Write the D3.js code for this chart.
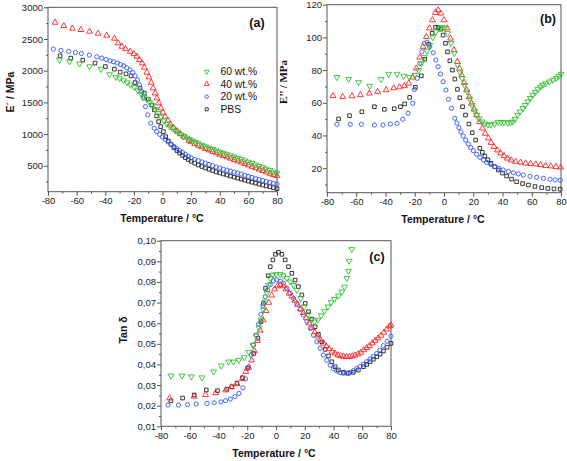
<!DOCTYPE html>
<html><head><meta charset="utf-8">
<script src="https://cdn.jsdelivr.net/npm/d3@7"></script>
<style>
body{margin:0;background:#fff}
svg{display:block;font-family:"Liberation Sans",Arial,sans-serif}
</style>
</head><body>
<svg id="chart" width="567" height="461"></svg>
<script>
// ---------- DATA ----------
const seriesNames = ["60 wt.%", "40 wt.%", "20 wt.%", "PBS"];
const xTicks = [-80, -60, -40, -20, 0, 20, 40, 60, 80];
const aTicks = [500, 1000, 1500, 2000, 2500, 3000];
const bTicks = [20, 40, 60, 80, 100, 120];
const cTicks = [0.01, 0.02, 0.03, 0.04, 0.05, 0.06, 0.07, 0.08, 0.09, 0.10];

// Panel (a): E' / MPa   [temperature, value]
const a60 = [[-72,2170],[-65,2145],[-58,2110],[-51,2065],[-43,2025],[-37,1940],[-32.6,1898],[-30,1877],[-27.2,1844],[-24.7,1812],[-22.3,1776],[-19.8,1740],[-17.2,1688],[-14.9,1629],[-13,1590],[-11,1550],[-9,1500],[-7,1450],[-5,1390],[-3,1330],[-1,1270],[1,1210],[3,1160],[5,1120],[7,1085],[9,1050],[11,1020],[13,990],[15,965],[17,940],[19,915],[21,892],[23,870],[25,850],[27.5,826],[30,803],[32.5,781],[35,760],[37.5,740],[40,720],[42.5,700],[45,680],[47.5,660],[50,640],[52.5,620],[55,600],[57.5,580],[60,560],[62.5,538],[65,516],[67.5,494],[70,472],[72.5,450],[75,428],[77.5,405],[80,385]];
const a40 = [[-75,2760],[-69,2708],[-63,2666],[-57,2645],[-51,2618],[-45,2587],[-39,2555],[-33.6,2508],[-31,2434],[-28.4,2381],[-25.8,2344],[-22.5,2302],[-20,2265],[-17.9,2223],[-16.1,2171],[-14.2,2119],[-12.6,2050],[-10.9,1971],[-9.5,1898],[-7.9,1812],[-6.5,1724],[-5.1,1645],[-3.9,1566],[-2.5,1487],[-1.1,1408],[0.3,1339],[1.9,1275],[3.8,1212],[5.6,1155],[7.7,1101],[10.1,1049],[12.4,1002],[15.4,950],[18.5,896],[20,875],[22.5,845],[25,818],[27.5,792],[30,768],[32.5,745],[35,722],[37.5,700],[40,678],[42.5,657],[45,636],[47.5,615],[50,594],[52.5,573],[55,552],[57.5,530],[60,508],[62.5,486],[65,464],[67.5,442],[70,420],[72.5,398],[75,377],[77.5,356],[80,340]];
const a20 = [[-76.3,2340],[-70.9,2318],[-65.5,2302],[-60.9,2287],[-56.7,2271],[-51.1,2245],[-45.9,2219],[-42.4,2198],[-39.4,2176],[-36.6,2155],[-34.3,2140],[-31.5,2119],[-29.2,2097],[-27.1,2076],[-25,2045],[-22.7,2013],[-20.8,1971],[-19.2,1918],[-17.5,1855],[-16.1,1776],[-14.5,1670],[-13.3,1566],[-11.9,1433],[-10.3,1302],[-8.2,1171],[-5.8,1092],[-4,1040],[-2,995],[0,955],[2,915],[4,875],[6,840],[8,805],[10,770],[12,740],[14,710],[16,680],[18,650],[20,625],[22.5,600],[25,580],[27.5,560],[30,540],[32.5,520],[35,500],[37.5,480],[40,462],[42.5,445],[45,430],[47.5,415],[50,400],[52.5,385],[55,368],[57.5,350],[60,333],[62.5,315],[65,298],[67.5,282],[70,266],[72.5,252],[75,238],[77.5,224],[80,210]];
const aPBS = [[-71.6,2234],[-64.1,2198],[-55.7,2166],[-47.1,2119],[-39.9,2065],[-33.6,2024],[-29.6,1977],[-25.5,1950],[-22,1918],[-19.2,1812],[-15.7,1724],[-12.7,1645],[-9.9,1550],[-7.6,1460],[-5.7,1381],[-4.1,1286],[-2.7,1196],[-1.3,1117],[0.6,1038],[2.2,959],[4.1,891],[6,835],[8,785],[10,740],[12,700],[14,662],[16,628],[18,598],[20,570],[22.5,540],[25,512],[27.5,488],[30,465],[32.5,444],[35,424],[37.5,405],[40,387],[42.5,370],[45,352],[47.5,336],[50,320],[52.5,304],[55,288],[57.5,272],[60,256],[62.5,240],[65,225],[67.5,210],[70,196],[72.5,182],[75,168],[77.5,152],[80,138]];

// Panel (b): E'' / MPa
const b60 = [[-73.2,75.6],[-65.2,74.5],[-58.4,72.5],[-50.8,70.3],[-43,74.4],[-37.8,77.6],[-32.1,77.6],[-27.6,76.4],[-23.7,75.6],[-20,77],[-17.3,80],[-15.5,84],[-13.6,88],[-11.6,91.7],[-9.7,95.3],[-7.6,100],[-5.5,103.5],[-3.5,105.5],[-1.5,106.3],[0.5,105.5],[2.5,102.5],[4.8,96.4],[7.1,90.3],[9.3,83.1],[11,78.5],[12.3,75],[14,70.8],[15.7,66.8],[17.5,62.5],[19.2,58.6],[21,55],[22.4,52.5],[24,50.3],[26,48.4],[28,47.2],[30,46.4],[32,46.6],[34.5,47],[37,48.2],[39,48.2],[41,48],[43.6,47.7],[45.5,48],[47,48.4],[48.5,50],[50.4,52.5],[52,54.6],[53.9,56.6],[55.5,58.5],[57.3,60.7],[59,62.8],[60.7,64.8],[62.5,66.6],[64.2,68.2],[66,69.7],[67.6,70.9],[69.5,71.8],[72.1,72.9],[74.5,74],[76.7,75],[78.5,76.3],[80,77.6]];
const b40 = [[-75.9,64.3],[-69.3,63.7],[-62.9,64.1],[-57.2,64.8],[-51,65.8],[-45.4,66.8],[-39.6,67.8],[-34.4,69],[-30.5,69.6],[-27.1,70.3],[-24.1,71.9],[-21.4,75.6],[-18.9,81.1],[-16.6,87.8],[-14.3,94.3],[-12,100.4],[-10,105.6],[-7.9,110.6],[-5.9,115.1],[-4,116.7],[-2.2,114.7],[-0.1,110.6],[2.2,105.6],[4.5,99.4],[6.8,92.3],[9.1,85.1],[10.6,81],[12.1,77],[13.8,72.3],[15.5,67.8],[17.2,63.6],[18.9,59.7],[20.6,56],[22.3,52.5],[24.2,48.3],[26.2,44.4],[28.2,41.2],[30.3,38.3],[32.2,35.6],[34.2,33.1],[36.5,31],[38.7,29.1],[41,27.5],[43.3,26],[46,24.9],[49,24],[52.4,23.5],[55.8,23],[59.2,22.7],[62.7,22.4],[66,22],[69.5,21.5],[73,21.2],[76.5,20.8],[79.8,20.5]];
const b20 = [[-73.2,46.8],[-64.1,46.8],[-56.5,46.8],[-47.6,46.4],[-41.7,46.4],[-36.7,47],[-32.1,47.4],[-28.2,49.9],[-24.6,53.6],[-21.4,59.7],[-20.2,68.2],[-18.3,75],[-16.5,84.1],[-15.1,91.2],[-13.5,96.4],[-11.5,97],[-9.7,94.3],[-7.4,90.6],[-5.6,86.2],[-4,82.1],[-2.4,77.6],[-0.6,72.9],[1.3,67.8],[3.1,62.1],[5.1,56.6],[7.4,50.5],[8.8,47.6],[10.2,44.8],[11.6,42.2],[13.1,39.7],[14.8,37.2],[16.6,34.8],[18.3,32.6],[20,30.7],[22.3,28.5],[24.6,26.6],[27,25],[29.1,23.6],[32,22.2],[34.8,20.9],[37.6,19.9],[40.5,18.9],[44,18],[47.4,17.2],[50.8,16.5],[54.2,15.8],[58.8,15],[63.4,14.4],[68,13.8],[72.5,13.2],[76,12.9],[79.5,12.6]];
const bPBS = [[-72.1,50.1],[-64.6,52.1],[-56.2,54.5],[-47.6,57.6],[-40.8,56],[-34,56.4],[-29.8,57.6],[-26.9,59.3],[-23.5,63.3],[-19.6,69.5],[-15.5,76.5],[-13.1,86.6],[-10.4,95.8],[-8.1,102.5],[-5.8,106.2],[-4,106],[-2.2,105],[-0.6,101.4],[1,96.4],[2.4,91.2],[4,85.7],[5.8,80],[7.4,74.5],[9.2,68.2],[10.8,63.1],[12.7,57.6],[14.7,52.5],[17,47],[19.3,41.7],[21.6,37.2],[24.5,32.2],[26.2,29.7],[27.9,27.4],[30,25.1],[32.1,23],[34.6,20.9],[37.1,18.9],[40,17],[42.8,15.2],[46.2,13.3],[49.7,11.7],[53.7,10.6],[57.7,9.7],[62.2,8.8],[66.8,8.1],[71,7.6],[75.2,7.3],[79.4,7.1]];

// Panel (c): Tan delta
const c60 = [[-73.1,0.0345],[-65.4,0.0345],[-58.9,0.0341],[-51.5,0.0336],[-43.4,0.0365],[-38.1,0.0394],[-33,0.0413],[-29.5,0.0413],[-25.8,0.0421],[-22.1,0.0434],[-18.8,0.0459],[-16.1,0.0494],[-13.8,0.0539],[-11.9,0.0578],[-10.3,0.0616],[-8.7,0.0664],[-7.5,0.0704],[-6.3,0.0745],[-5.2,0.0785],[-4,0.0818],[-2.2,0.0834],[0.1,0.0837],[2.9,0.0837],[5.2,0.083],[7.6,0.0818],[9.9,0.0801],[12.2,0.0785],[14.5,0.0761],[17.3,0.0721],[19.6,0.068],[22.2,0.0643],[24.5,0.0616],[26.7,0.0607],[29.1,0.0616],[31.4,0.0637],[33.7,0.0659],[36.1,0.068],[38.4,0.0701],[40.6,0.0717],[43.4,0.0733],[45.8,0.0752],[47.6,0.0776],[49.3,0.0818],[50.4,0.0853],[50.9,0.0902],[52.7,0.0958]];
const c40 = [[-74,0.0236],[-57,0.0245],[-49,0.0253],[-42,0.0262],[-35,0.0275],[-31,0.029],[-27,0.0305],[-23.5,0.033],[-21,0.0365],[-19,0.0385],[-17,0.042],[-15,0.0465],[-13,0.0515],[-11,0.0565],[-9,0.0615],[-7,0.066],[-5,0.07],[-3,0.0735],[-1,0.0765],[1,0.078],[3,0.0785],[5,0.078],[7,0.0765],[9,0.0745],[11,0.073],[13,0.071],[15,0.069],[17,0.0668],[19,0.065],[21,0.0625],[23,0.06],[25,0.0578],[27,0.0557],[29,0.0537],[31,0.0518],[33,0.0502],[35,0.0488],[37,0.0475],[39,0.0463],[41,0.0454],[43,0.0446],[45,0.0441],[47,0.0438],[49,0.0437],[51,0.0437],[53,0.044],[55,0.0444],[57,0.045],[59,0.0458],[61,0.047],[63,0.048],[65,0.049],[67,0.0503],[69,0.0515],[71,0.0527],[73,0.054],[75,0.0555],[77,0.057],[79,0.0585],[80,0.059]];
const c20 = [[-75.1,0.0203],[-67.8,0.0203],[-61.5,0.0205],[-55.5,0.0208],[-48,0.0211],[-43,0.0214],[-38.3,0.0218],[-35.1,0.0224],[-31.8,0.0232],[-28.6,0.0244],[-25.8,0.026],[-23,0.0287],[-21.2,0.033],[-19.1,0.0389],[-17.3,0.0446],[-15.6,0.0494],[-13.8,0.0543],[-12.1,0.0596],[-10.5,0.0643],[-9.1,0.0685],[-7.5,0.0728],[-5.9,0.0761],[-4,0.0788],[-1.8,0.0805],[0.6,0.081],[3,0.0803],[5.2,0.0793],[7.5,0.077],[9.9,0.0745],[12.2,0.072],[14.5,0.0696],[16.8,0.0668],[19.1,0.0639],[21.5,0.0607],[23.8,0.0575],[26.1,0.0542],[28.4,0.051],[30.7,0.0478],[33,0.0446],[35.3,0.042],[37.7,0.0397],[40,0.038],[42.3,0.0368],[44.6,0.036],[46.9,0.0357],[49.2,0.0358],[51.6,0.0362],[53.9,0.037],[56.2,0.0381],[58.5,0.039],[60.8,0.0401],[63.1,0.0413],[65.4,0.0426],[67.7,0.0439],[70.1,0.0453],[72.4,0.047],[74.7,0.0491],[77.3,0.0512],[80,0.0537]];
const cPBS = [[-73.1,0.0224],[-65,0.0237],[-56.9,0.0252],[-48.5,0.0276],[-40.7,0.0273],[-34.2,0.028],[-30.7,0.0292],[-27.2,0.0309],[-23.3,0.0336],[-19.8,0.0381],[-15.6,0.0453],[-12.6,0.0527],[-10.5,0.0607],[-8.7,0.0696],[-7.3,0.0769],[-5.4,0.083],[-4,0.0874],[-2.2,0.0907],[-0.4,0.0934],[1.7,0.0944],[4.1,0.0934],[6.4,0.0907],[8.7,0.0874],[11,0.0842],[13.3,0.0809],[15.6,0.0777],[18,0.0737],[20.3,0.0696],[22.6,0.0656],[24.9,0.062],[27.2,0.0583],[29.5,0.0546],[31.9,0.051],[34.2,0.0473],[36.5,0.0441],[38.8,0.0413],[41.1,0.0389],[43.4,0.0373],[46.9,0.0362],[50.4,0.0357],[53.8,0.0362],[57.3,0.0373],[60.8,0.0389],[63.1,0.04],[65.4,0.0413],[67.7,0.0425],[70.1,0.0437],[72.4,0.045],[74.7,0.0465],[77.3,0.0483],[80,0.0502]];

// ---------- STYLE ----------
const colors = {"60 wt.%":"#2fc02f","40 wt.%":"#ff2424","20 wt.%":"#3355ff","PBS":"#222222"};
const shapes = {"60 wt.%":"down","40 wt.%":"up","20 wt.%":"circle","PBS":"square"};

const svg = d3.select("#chart");

function markerPath(shape, k){
  k = k || 1;
  if(shape==="up" || shape==="down") return d3.symbol().type(d3.symbolTriangle).size(15*k)();
  if(shape==="circle") return d3.symbol().type(d3.symbolCircle).size(14*k)();
  return d3.symbol().type(d3.symbolSquare).size(13*k)();
}

function drawPanel(p){
  const x = d3.scaleLinear().domain([-80,80]).range([p.left,p.right]);
  const y = d3.scaleLinear().domain(p.yDomain).range([p.bottom,p.top]);
  const g = svg.append("g");

  g.append("rect").attr("x",p.left).attr("y",p.top)
    .attr("width",p.right-p.left).attr("height",p.bottom-p.top)
    .attr("fill","none").attr("stroke","#555").attr("stroke-width",1);

  const xMinor = d3.range(-70,80,20);
  g.append("g").attr("transform",`translate(0,${p.bottom})`)
    .call(d3.axisBottom(x).tickValues(xMinor).tickSize(2).tickFormat(""))
    .call(s=>s.select(".domain").remove());
  g.append("g").attr("transform",`translate(${p.left},0)`)
    .call(d3.axisLeft(y).tickValues(p.yMinor).tickSize(2).tickFormat(""))
    .call(s=>s.select(".domain").remove());

  const xa = g.append("g").attr("transform",`translate(0,${p.bottom})`)
    .call(d3.axisBottom(x).tickValues(xTicks).tickSize(4).tickPadding(2).tickFormat(d=>String(d)));
  const ya = g.append("g").attr("transform",`translate(${p.left},0)`)
    .call(d3.axisLeft(y).tickValues(p.yTicks).tickSize(4).tickPadding(1).tickFormat(p.fmt));
  [xa,ya].forEach(a=>{
    a.select(".domain").remove();
    a.selectAll("text").attr("font-size","9.5px").attr("fill","#222")
      .attr("font-family",'"Liberation Sans",Arial,sans-serif');
  });
  g.selectAll(".tick line").attr("stroke","#555");

  p.series.slice().reverse().forEach(([name,data])=>{
    const sh = shapes[name];
    g.append("g").selectAll("path").data(data).join("path")
      .attr("d",markerPath(sh))
      .attr("transform",d=>`translate(${x(d[0])},${y(d[1])})`+(sh==="down"?" rotate(180)":""))
      .attr("fill","none").attr("stroke",colors[name]).attr("stroke-width",0.9);
  });

  svg.append("text").attr("x",p.xlabX).attr("y",p.xlabY)
    .attr("text-anchor","middle").attr("font-weight","bold").attr("font-size","10.5px")
    .attr("fill","#111").text("Temperature / °C");
  svg.append("text").attr("transform",`translate(${p.ylabX},${p.ylabY}) rotate(-90)`)
    .attr("text-anchor","middle").attr("font-weight","bold").attr("font-size",p.ylabSize)
    .attr("font-family",p.ylabFont).attr("fill","#111").text(p.ylabel);
  svg.append("text").attr("x",p.tagX).attr("y",p.tagY).attr("text-anchor","middle")
    .attr("font-weight","bold").attr("font-size","12.5px").attr("fill","#111").text(p.tag);
}

const fmtComma = d => d3.format(".2f")(d).replace(".",",");

drawPanel({left:48,right:277,top:7.3,bottom:191.7,yDomain:[90,3000],
  yTicks:aTicks,yMinor:d3.range(250,3000,500),fmt:d=>String(d),
  series:[["60 wt.%",a60],["40 wt.%",a40],["20 wt.%",a20],["PBS",aPBS]],
  xlabX:162,xlabY:222,ylabX:14,ylabY:92,ylabel:"E\u00B4 / MPa",ylabSize:"10.5px",
  ylabFont:'"Liberation Sans",Arial,sans-serif',tag:"(a)",tagX:257,tagY:27});

drawPanel({left:327,right:561,top:4.7,bottom:192.7,yDomain:[5,120],
  yTicks:bTicks,yMinor:d3.range(10,120,20),fmt:d=>String(d),
  series:[["60 wt.%",b60],["40 wt.%",b40],["20 wt.%",b20],["PBS",bPBS]],
  xlabX:443,xlabY:223,ylabX:287,ylabY:82,ylabel:"E\u2019\u2019 / MPa",ylabSize:"11px",
  ylabFont:'"Liberation Serif","Times New Roman",serif',tag:"(b)",tagX:548,tagY:23});

drawPanel({left:161,right:391,top:240.7,bottom:426.3,yDomain:[0.01,0.10],
  yTicks:cTicks,yMinor:d3.range(0.015,0.1,0.01),fmt:fmtComma,
  series:[["60 wt.%",c60],["40 wt.%",c40],["20 wt.%",c20],["PBS",cPBS]],
  xlabX:274,xlabY:457,ylabX:127,ylabY:330,ylabel:"Tan \u03B4",ylabSize:"10.5px",
  ylabFont:'"Liberation Sans",Arial,sans-serif',tag:"(c)",tagX:377,tagY:261});

// legend (panel a)
const legY = [71.7, 84, 96.7, 109.3];
seriesNames.forEach((name,i)=>{
  const sh = shapes[name];
  svg.append("path").attr("d",markerPath(sh,0.7))
    .attr("transform",`translate(206.7,${legY[i]})`+(sh==="down"?" rotate(180)":""))
    .attr("fill","none").attr("stroke",colors[name]).attr("stroke-width",0.9);
  svg.append("text").attr("x",220.5).attr("y",legY[i]+3.7)
    .attr("font-size","10.3px").attr("fill","#111").text(name);
});
</script>
</body></html>
